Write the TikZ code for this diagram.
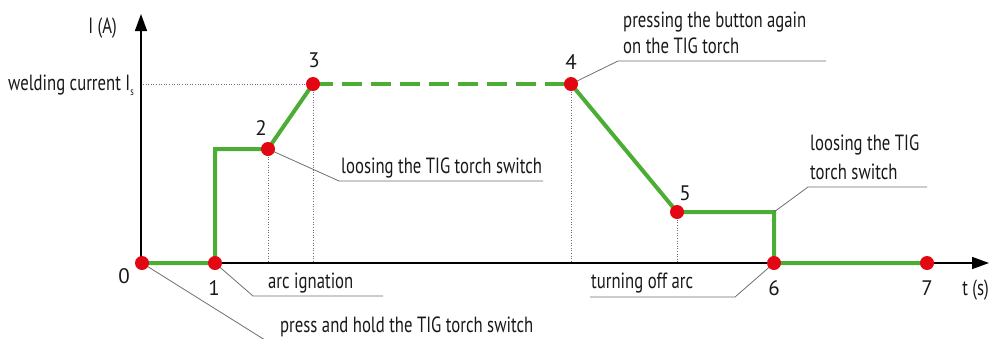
\documentclass[tikz,border=0pt]{standalone}
\usepackage{fontspec}
\setmainfont{PT Sans}
\newfontfamily\condfont[FakeStretch=0.76]{PT Sans}
\usetikzlibrary{arrows.meta}
\definecolor{wgreen}{RGB}{76,173,52}
\definecolor{wred}{RGB}{227,6,19}
\definecolor{lgray}{RGB}{110,110,110}
\definecolor{tcol}{RGB}{25,25,25}
\tikzset{
  axis/.style={line width=1.6pt,-{Triangle[length=17pt,width=12pt]}},
  curve/.style={wgreen,line width=4pt,line join=miter},
  dashcurve/.style={wgreen,line width=4pt,dash pattern=on 20pt off 9pt},
  dot/.style={circle,fill=wred,inner sep=0pt,minimum size=14pt},
  guide/.style={lgray,line width=0.6pt,dotted},
  leader/.style={lgray,line width=0.8pt},
  lbl/.style={font=\condfont\fontsize{22}{24}\selectfont,inner sep=0pt,text=tcol},
  num/.style={font=\fontsize{21}{24}\selectfont,inner sep=0pt,text=tcol}
}
\begin{document}
\begin{tikzpicture}[x=1pt,y=-1pt]
\useasboundingbox (0,0) rectangle (998,338);
% key points
\coordinate (p0) at (142,263);
\coordinate (p1) at (215,263);
\coordinate (p1u) at (215,149);
\coordinate (p2) at (268,149);
\coordinate (p3) at (313,84);
\coordinate (p4) at (571,84);
\coordinate (p5) at (677,212);
\coordinate (p5r) at (774,212);
\coordinate (p6) at (774,263);
\coordinate (p7) at (927,263);
\coordinate (ytip) at (141,14);
\coordinate (xtip) at (989,263);
% guides
\draw[guide] (143,84) -- (p3);
\draw[guide] (p2) -- (268,262);
\draw[guide] (p3) -- (313,262);
\draw[guide] (p4) -- (571,262);
\draw[guide] (p5) -- (677,262);
% axes
\draw[axis] (141,264) -- (ytip);
\draw[axis] (140,263) -- (xtip);
% curve
\draw[curve] (p0) -- (p1) -- (p1u) -- (p2) -- (p3);
\draw[dashcurve] (p3) -- (p4);
\draw[curve] (p4) -- (p5) -- (p5r) -- (p6) -- (p7);
% leaders
\coordinate (l2a) at (339,181); \coordinate (l2b) at (543,181);
\coordinate (l1a) at (253,296); \coordinate (l1b) at (383,296);
\coordinate (l0a) at (265,340);
\coordinate (l4a) at (618,61); \coordinate (l4b) at (826,61);
\coordinate (l5a) at (808,187); \coordinate (l5b) at (927,187);
\coordinate (l6a) at (735,297); \coordinate (l6b) at (590,297);
\draw[leader] (p2) -- (l2a) -- (l2b);
\draw[leader] (p1) -- (l1a) -- (l1b);
\draw[leader] (p0) -- (l0a);
\draw[leader] (p4) -- (l4a) -- (l4b);
\draw[leader] (p5r) -- (l5a) -- (l5b);
\draw[leader] (p6) -- (l6a) -- (l6b);
% dots
\foreach \p in {p0,p1,p2,p3,p4,p5,p6,p7} \node[dot] (d\p) at (\p) {};
% numbers
\node[num] (n0) at (124,276) {0};
\node[num] (n1) at (214,288) {1};
\node[num] (n2) at (261,128) {2};
\node[num] (n3) at (314,60) {3};
\node[num] (n4) at (571,62) {4};
\node[num] (n5) at (685,193) {5};
\node[num] (n6) at (774,288) {6};
\node[num] (n7) at (927,288) {7};
% labels
\node[lbl,anchor=base east] (ia) at (117,33) {I (A)};
\node[lbl,anchor=base east] (wc) at (134,90) {welding current I\raisebox{-5pt}{\fontsize{11}{12}\selectfont s}};
\node[lbl,anchor=base east] (ts) at (989,295) {t (s)};
\node[lbl,anchor=base west] (t2) at (341,173) {loosing the TIG torch switch};
\node[lbl,anchor=base west] (t1) at (268,288) {arc ignation};
\node[lbl,anchor=base west] (t0) at (280,332) {press and hold the TIG torch switch};
\node[lbl,anchor=base west] (t4a) at (623,27) {pressing the button again};
\node[lbl,anchor=base west] (t4b) at (623,53) {on the TIG torch};
\node[lbl,anchor=base west] (t5a) at (810,150) {loosing the TIG};
\node[lbl,anchor=base west] (t5b) at (810,179) {torch switch};
\node[lbl,anchor=base west] (t6) at (591,288) {turning off arc};
\end{tikzpicture}
\end{document}
